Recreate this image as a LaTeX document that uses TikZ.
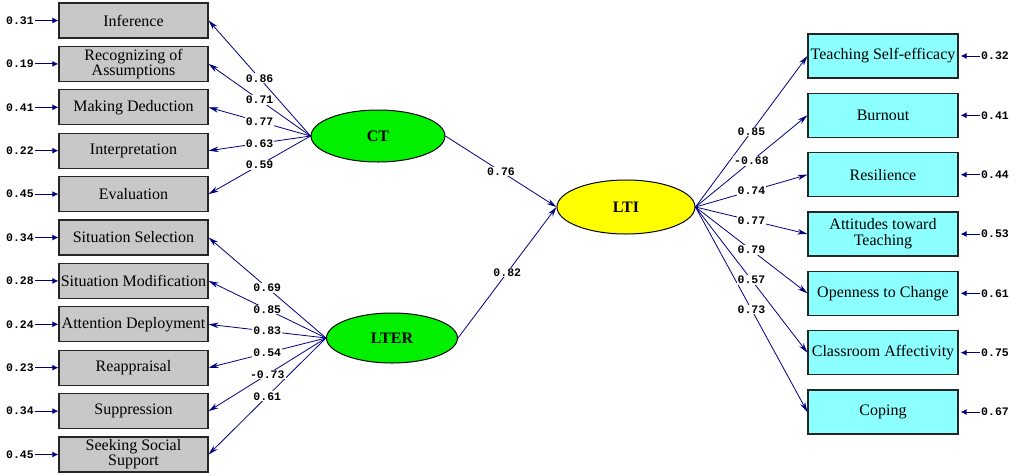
\documentclass[tikz,border=0pt]{standalone}
\usepackage{fontspec}
\setmainfont{Liberation Serif}
\newfontfamily\numfont{Liberation Mono}
\usetikzlibrary{arrows.meta,shapes.geometric}
\definecolor{navy}{RGB}{0,0,128}
\definecolor{boxgray}{RGB}{200,200,200}
\definecolor{boxcyan}{RGB}{140,255,255}
\definecolor{latgreen}{RGB}{0,240,0}
\definecolor{latyellow}{RGB}{255,255,0}
\tikzset{
  obsL/.style={draw=black!85, line width=1.2pt, fill=boxgray, minimum width=149pt, minimum height=35pt, inner sep=0pt, align=center, font=\fontsize{16}{14}\selectfont},
  obsR/.style={draw=black!85, line width=1.2pt, fill=boxcyan, minimum width=150pt, minimum height=44pt, inner sep=0pt, align=center, font=\fontsize{16}{16}\selectfont},
  latent/.style={ellipse, draw=black, line width=1pt, inner sep=0pt, font=\bfseries\fontsize{16}{16}\selectfont},
  errnum/.style={inner sep=1pt, font=\numfont\bfseries\fontsize{11.5}{12}\selectfont},
  lab/.style={fill=white, inner sep=1pt, font=\numfont\bfseries\fontsize{11.5}{12}\selectfont},
  path/.style={draw=navy, line width=0.8pt, -{Stealth[length=10pt,width=5.5pt]}},
  errpath/.style={draw=navy, line width=1pt, -{Latex[length=6pt,width=6pt]}}
}
\begin{document}
\begin{tikzpicture}[x=1pt,y=-1pt]
\useasboundingbox (0,0) rectangle (1021,475);

% left observed boxes
\node[obsL] (b1) at (133.5,20.5) {Inference};
\node[obsL] (b2) at (133.5,63.9) {Recognizing of\\Assumptions};
\node[obsL] (b3) at (133.5,107.3) {Making Deduction};
\node[obsL] (b4) at (133.5,150.7) {Interpretation};
\node[obsL] (b5) at (133.5,194.1) {Evaluation};
\node[obsL] (b6) at (133.5,237.5) {Situation Selection};
\node[obsL] (b7) at (133.5,280.9) {Situation Modification};
\node[obsL] (b8) at (133.5,324.3) {Attention Deployment};
\node[obsL] (b9) at (133.5,367.7) {Reappraisal};
\node[obsL] (b10) at (133.5,411.1) {Suppression};
\node[obsL] (b11) at (133.5,454.5) {Seeking Social\\Support};

% right observed boxes
\node[obsR] (r1) at (883,56) {Teaching Self-efficacy};
\node[obsR] (r2) at (883,115.3) {Burnout};
\node[obsR] (r3) at (883,174.7) {Resilience};
\node[obsR] (r4) at (883,234) {Attitudes toward\\Teaching};
\node[obsR] (r5) at (883,293.3) {Openness to Change};
\node[obsR] (r6) at (883,352.7) {Classroom Affectivity};
\node[obsR] (r7) at (883,412) {Coping};

% latent variables
\node[latent, fill=latgreen, minimum width=134pt, minimum height=52pt] (CT) at (378,136) {CT};
\node[latent, fill=latgreen, minimum width=131pt, minimum height=50pt] (LTER) at (392,338) {LTER};
\node[latent, fill=latyellow, minimum width=138pt, minimum height=54pt] (LTI) at (626,207) {LTI};

% left error terms
\foreach \i/\y/\v in {1/20.5/0.31,2/63.9/0.19,3/107.3/0.41,4/150.7/0.22,5/194.1/0.45,6/237.5/0.34,7/280.9/0.28,8/324.3/0.24,9/367.7/0.23,10/411.1/0.34,11/454.5/0.45}{
  \node[errnum, anchor=east] (el\i) at (35,\y) {\v};
  \draw[errpath] (el\i.east) -- (b\i.west);
}
% right error terms
\foreach \i/\y/\v in {1/56/0.32,2/115.3/0.41,3/174.7/0.44,4/234/0.53,5/293.3/0.61,6/352.7/0.75,7/412/0.67}{
  \node[errnum, anchor=west] (er\i) at (980,\y) {\v};
  \draw[errpath, shorten >=2pt] (er\i.west) -- (r\i.east);
}

% loadings lines
\foreach \i in {1,...,5}{ \draw[path] (CT.west) -- (b\i.east); }
\foreach \i in {6,...,11}{ \draw[path] (LTER.west) -- (b\i.east); }
\foreach \i in {1,...,7}{ \draw[path] (LTI.east) -- (r\i.west); }
\draw[path] (CT.east) -- (LTI.west);
\draw[path] (LTER.east) -- (LTI.west);

% labels
\foreach \i/\v in {1/0.86,2/0.71,3/0.77,4/0.63,5/0.59}{
  \path (CT.west) -- node[lab] {\v} (b\i.east);
}
\foreach \i/\v in {6/0.69,7/0.85,8/0.83,9/0.54,10/-0.73,11/0.61}{
  \path (LTER.west) -- node[lab] {\v} (b\i.east);
}
\foreach \i/\v in {1/0.85,2/-0.68,3/0.74,4/0.77,5/0.79,6/0.57,7/0.73}{
  \path (LTI.east) -- node[lab] {\v} (r\i.west);
}
\path (CT.east) -- node[lab] {0.76} (LTI.west);
\path (LTER.east) -- node[lab] {0.82} (LTI.west);
\end{tikzpicture}
\end{document}
